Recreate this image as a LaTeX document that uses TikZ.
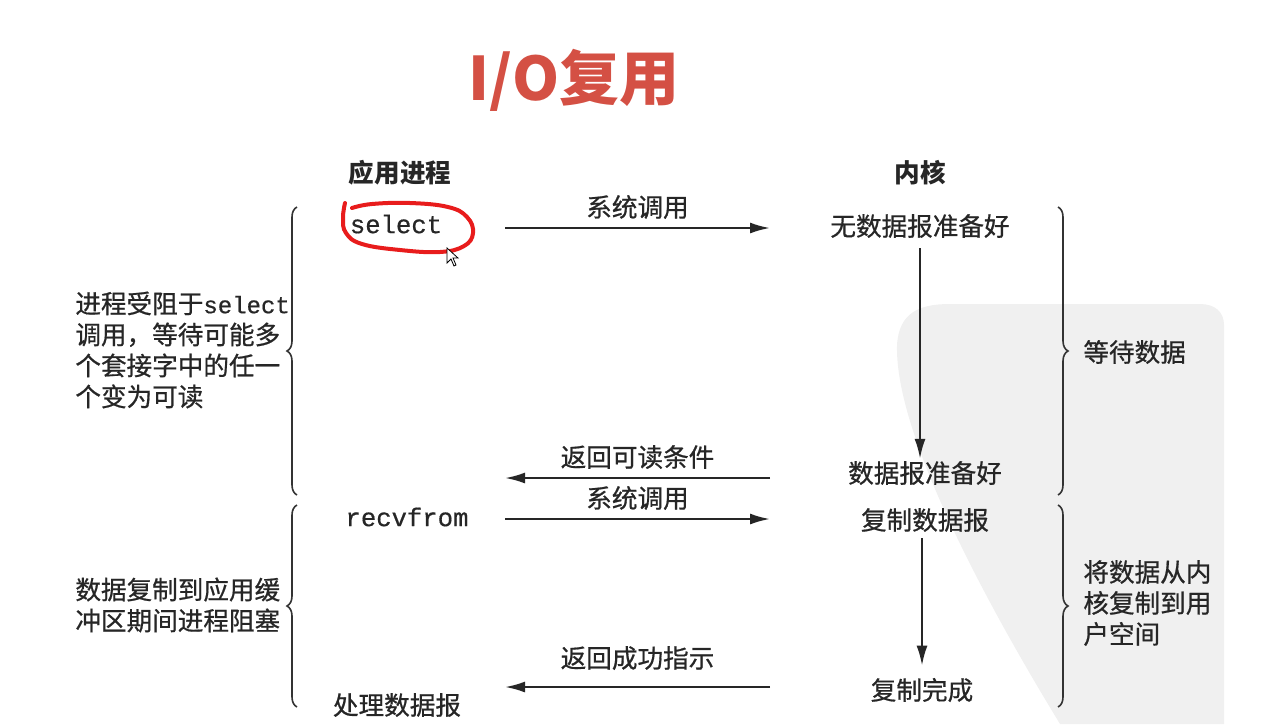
\documentclass[tikz,border=0pt]{standalone}
\usepackage{fontspec}
\setmainfont{Noto Sans CJK SC}[UprightFeatures={FakeBold=0.7}]
\setmonofont{Liberation Mono}[FakeBold=0.6]
\usetikzlibrary{positioning, arrows.meta, decorations.pathreplacing}
\definecolor{titlered}{RGB}{212,80,68}
\definecolor{penred}{RGB}{232,28,28}

\begin{document}
\begin{tikzpicture}[x=0.5pt, y=-0.5pt,
    txt/.style={font=\fontsize{12.8}{15.5}\selectfont, text=black!85, inner sep=0pt},
    code/.style={txt, font=\fontsize{12.8}{15.5}\ttfamily},
    head/.style={txt, font=\fontsize{12.8}{15.5}\selectfont\bfseries},
    note/.style={txt, align=left, anchor=west},
    call/.style={-{Latex[length=10pt,width=5.5pt]}, line width=1.1pt, draw=black!85},
    brc/.style={decorate, decoration={brace, amplitude=5pt}, line width=0.8pt, draw=black!80}
  ]

  \useasboundingbox (0,0) rectangle (1261,724);

  % watermark behind the kernel side
  \fill[black!6] (1060,724) .. controls (960,560) and (895,420) .. (897,345)
    .. controls (899,312) and (920,304) .. (950,304) -- (1200,304)
    .. controls (1215,304) and (1224,312) .. (1224,325) -- (1224,724) -- cycle;

  \node[txt, font=\fontsize{30}{32}\selectfont\bfseries, text=titlered] (title) at (574,80) {I/O复用};

  \node[head] (app) at (400,173) {应用进程};
  \node[head] (kern) at (920,173) {内核};

  % application side
  \node[code] (sel) at (396,224) {select};
  \node[code] (recv) at (407,517) {recvfrom};
  \node[txt] (proc) at (397,705) {处理数据报};

  % kernel side
  \node[txt] (nodata) at (920,226) {无数据报准备好};
  \node[txt] (ready) at (925,473) {数据报准备好};
  \node[txt] (copy) at (925,520) {复制数据报};
  \node[txt] (done) at (922,690) {复制完成};

  \draw[call, shorten <=5pt, shorten >=1pt] (nodata.south) -- (nodata.south |- ready.north);
  \draw[call, shorten <=3pt, shorten >=6pt] (copy.south -| done.north) -- (done.north);

  % calls and returns
  \coordinate (c1a) at (505,228); \coordinate (c1b) at (770,228);
  \coordinate (c2a) at (770,478); \coordinate (c2b) at (505,478);
  \coordinate (c3a) at (505,519); \coordinate (c3b) at (770,519);
  \coordinate (c4a) at (770,687); \coordinate (c4b) at (505,687);

  \draw[call] (c1a) -- node[txt, above=4pt] (l1) {系统调用} (c1b);
  \draw[call] (c2a) -- node[txt, above=4pt] (l2) {返回可读条件} (c2b);
  \draw[call] (c3a) -- node[txt, above=4pt] (l3) {系统调用} (c3b);
  \draw[call] (c4a) -- node[txt, above=8pt] (l4) {返回成功指示} (c4b);

  % braces
  \coordinate (lb1t) at (297,207); \coordinate (lb1b) at (297,495);
  \coordinate (lb2t) at (297,505); \coordinate (lb2b) at (297,707);
  \coordinate (rb1t) at (1058,207); \coordinate (rb1b) at (1058,495);
  \coordinate (rb2t) at (1058,505); \coordinate (rb2b) at (1058,707);

  \draw[brc] (lb1b) -- (lb1t);
  \draw[brc] (lb2b) -- (lb2t);
  \draw[brc] (rb1t) -- (rb1b);
  \draw[brc] (rb2t) -- (rb2b);

  \node[note] (block1) at (75,350) {进程受阻于{\fontsize{12}{15.5}\ttfamily select}\\调用，等待可能多\\个套接字中的任一\\个变为可读};
  \node[note] (block2) at (75,605) {数据复制到应用缓\\冲区期间进程阻塞};
  \node[note] (waitk) at (1083,352) {等待数据};
  \node[note] (copyk) at (1083,603) {将数据从内\\核复制到用\\户空间};

  % hand-drawn mark round select
  \draw[penred, line width=2pt, line cap=round] plot[smooth, tension=0.7] coordinates {
      (345,203) (343,218) (346,233) (362,244) (400,250) (440,252) (464,246)
      (473,233) (467,217) (448,207) (410,203) (372,204) (352,208)};

  % mouse pointer
  \draw[fill=white, line width=0.4pt] (447,248) -- (447,263) -- (451,259) -- (454,266)
    -- (456,265) -- (453,258) -- (458,258) -- cycle;

\end{tikzpicture}
\end{document}
